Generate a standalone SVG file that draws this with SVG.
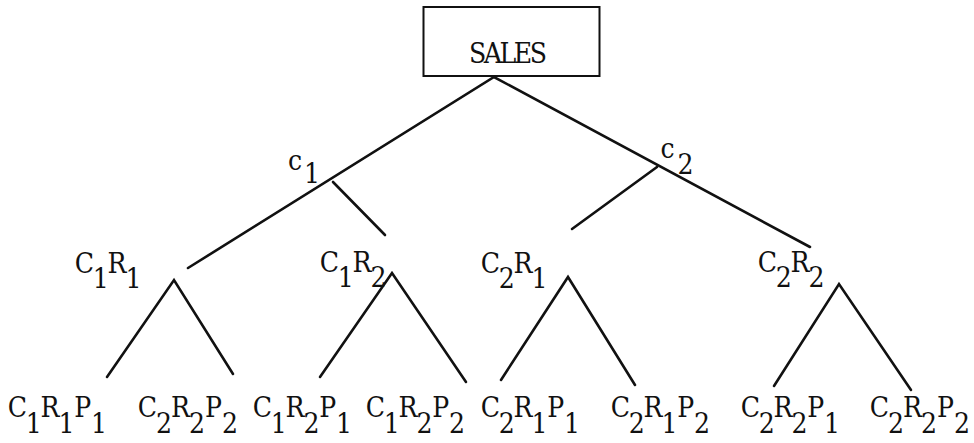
<svg xmlns="http://www.w3.org/2000/svg" width="974" height="443" viewBox="0 0 974 443">
<style>
text{font-family:"DejaVu Serif Condensed","DejaVu Serif","Liberation Serif",serif;font-stretch:condensed;font-size:28px;fill:#111;text-anchor:middle}
.ln{stroke:#111;stroke-width:2.6;fill:none;stroke-linecap:round;stroke-linejoin:miter}
.box{stroke:#111;stroke-width:2;fill:#fff}
</style>
<rect width="974" height="443" fill="#fff"/>
<g id="connectors">
<polyline class="ln" points="188,268 494,77 810,247"/>
<line class="ln" x1="333" y1="182" x2="385" y2="235"/>
<line class="ln" x1="657" y1="167" x2="572" y2="229"/>
<polyline class="ln" points="107,377 174,280 233,374"/>
<polyline class="ln" points="320,377 392,273 466,382"/>
<polyline class="ln" points="501,380 568,277 635,385"/>
<polyline class="ln" points="774,386 839,284 911,390"/>
</g>
<g id="sales">
<rect class="box" x="423.5" y="7" width="176" height="69"/>
<text x="469" y="63" style="text-anchor:start" textLength="78" lengthAdjust="spacing">SALES</text>
</g>
<g id="c1"><text><tspan x="295" y="170">c</tspan><tspan x="312" y="183">1</tspan></text></g>
<g id="c2"><text><tspan x="667.5" y="158">c</tspan><tspan x="685.5" y="174">2</tspan></text></g>
<g id="c1r1"><text><tspan x="84.5" y="273">C</tspan><tspan x="100.8" y="288">1</tspan><tspan x="117.1" y="273">R</tspan><tspan x="133.4" y="288">1</tspan></text></g>
<g id="c1r2"><text><tspan x="329.5" y="272">C</tspan><tspan x="345.8" y="287">1</tspan><tspan x="362.1" y="272">R</tspan><tspan x="378.4" y="287">2</tspan></text></g>
<g id="c2r1"><text><tspan x="490.5" y="273">C</tspan><tspan x="506.8" y="288">2</tspan><tspan x="523.1" y="273">R</tspan><tspan x="539.4" y="288">1</tspan></text></g>
<g id="c2r2"><text><tspan x="767.5" y="272">C</tspan><tspan x="783.8" y="287">2</tspan><tspan x="800.1" y="272">R</tspan><tspan x="816.4" y="287">2</tspan></text></g>
<g id="c1r1p1"><text><tspan x="17.5" y="417">C</tspan><tspan x="33.8" y="433">1</tspan><tspan x="50.1" y="417">R</tspan><tspan x="66.4" y="433">1</tspan><tspan x="82.7" y="417">P</tspan><tspan x="99" y="433">1</tspan></text></g>
<g id="c2r2p2a"><text><tspan x="147.5" y="417">C</tspan><tspan x="164" y="433">2</tspan><tspan x="180.5" y="417">R</tspan><tspan x="197" y="433">2</tspan><tspan x="213.5" y="417">P</tspan><tspan x="230" y="433">2</tspan></text></g>
<g id="c1r2p1"><text><tspan x="262.5" y="417">C</tspan><tspan x="278.8" y="433">1</tspan><tspan x="295.1" y="417">R</tspan><tspan x="311.4" y="433">2</tspan><tspan x="327.7" y="417">P</tspan><tspan x="344" y="433">1</tspan></text></g>
<g id="c1r2p2"><text><tspan x="375.5" y="417">C</tspan><tspan x="391.8" y="433">1</tspan><tspan x="408.1" y="417">R</tspan><tspan x="424.4" y="433">2</tspan><tspan x="440.7" y="417">P</tspan><tspan x="457" y="433">2</tspan></text></g>
<g id="c2r1p1"><text><tspan x="490.5" y="417">C</tspan><tspan x="506.8" y="433">2</tspan><tspan x="523.1" y="417">R</tspan><tspan x="539.4" y="433">1</tspan><tspan x="555.7" y="417">P</tspan><tspan x="572" y="433">1</tspan></text></g>
<g id="c2r1p2"><text><tspan x="620.5" y="417">C</tspan><tspan x="636.8" y="433">2</tspan><tspan x="653.1" y="417">R</tspan><tspan x="669.4" y="433">1</tspan><tspan x="685.7" y="417">P</tspan><tspan x="702" y="433">2</tspan></text></g>
<g id="c2r2p1"><text><tspan x="750.5" y="417">C</tspan><tspan x="766.8" y="433">2</tspan><tspan x="783.1" y="417">R</tspan><tspan x="799.4" y="433">2</tspan><tspan x="815.7" y="417">P</tspan><tspan x="832" y="433">1</tspan></text></g>
<g id="c2r2p2b"><text><tspan x="879.5" y="417">C</tspan><tspan x="896" y="433">2</tspan><tspan x="912.5" y="417">R</tspan><tspan x="929" y="433">2</tspan><tspan x="945.5" y="417">P</tspan><tspan x="962" y="433">2</tspan></text></g>
</svg>
